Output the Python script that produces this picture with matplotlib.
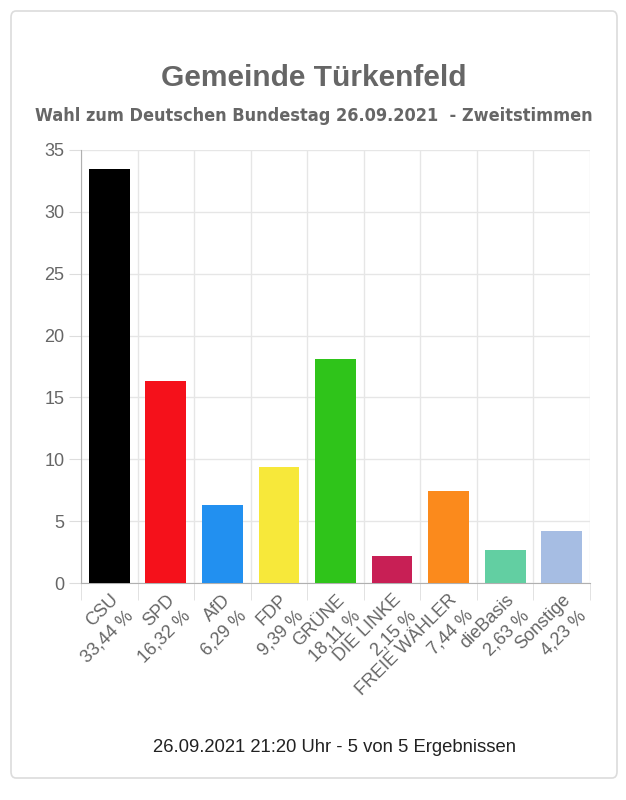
import matplotlib
matplotlib.use("Agg")
import matplotlib.pyplot as plt
from matplotlib.patches import FancyBboxPatch
from matplotlib import font_manager
import numpy as np

parties = ["CSU", "SPD", "AfD", "FDP", "GRÜNE", "DIE LINKE", "FREIE WÄHLER", "dieBasis", "Sonstige"]
values = [33.44, 16.32, 6.29, 9.39, 18.11, 2.15, 7.44, 2.63, 4.23]
value_labels = ["33,44 %", "16,32 %", "6,29 %", "9,39 %", "18,11 %", "2,15 %", "7,44 %", "2,63 %", "4,23 %"]
colors = ["#000000", "#f5111b", "#2290f0", "#f7e83a", "#2fc41a", "#c81f55", "#fb8a1c", "#62cfa2", "#a6bde3"]
yticks = [0, 5, 10, 15, 20, 25, 30, 35]

title = "Gemeinde Türkenfeld"
subtitle = "Wahl zum Deutschen Bundestag 26.09.2021  - Zweitstimmen"
footer = "26.09.2021 21:20 Uhr - 5 von 5 Ergebnissen"

plt.rcParams['font.family'] = ['Liberation Sans', 'DejaVu Sans']

cond = None
for f in font_manager.fontManager.ttflist:
    if 'condensed' in f.fname.lower() or 'narrow' in f.name.lower():
        if 'bold' in f.fname.lower() and 'oblique' not in f.fname.lower() and 'italic' not in f.fname.lower():
            cond = f.fname
            break

fig = plt.figure(figsize=(6.26, 8), dpi=100)
W, H = 626, 800

card = FancyBboxPatch((11 / W, 22 / H), 606 / W, 767 / H,
                      boxstyle="round,pad=0,rounding_size=0.008",
                      transform=fig.transFigure, facecolor="white",
                      edgecolor="#dcdcdc", linewidth=1.2, zorder=-5)
fig.patches.append(card)

ax = fig.add_axes([81 / W, 1 - 583 / H, 509 / W, 433 / H])
ax.set_facecolor("none")
x = np.arange(len(parties))
ax.bar(x, values, width=0.72, color=colors, zorder=3)

ax.set_xlim(-0.5, len(parties) - 0.5)
ax.set_ylim(0, 35)
ax.set_yticks(yticks)
ax.set_yticklabels([str(v) for v in yticks], fontsize=13, color="#666666")
ax.tick_params(axis='y', length=9, color="#dddddd", pad=3)

ax.set_xticks(x)
ax.set_xticklabels([f"{p}\n{v}" for p, v in zip(parties, value_labels)],
                   rotation=45, ha='right', va='top', rotation_mode='anchor',
                   fontsize=13, color="#666666", multialignment='right',
                   linespacing=1.4)
ax.tick_params(axis='x', length=0, pad=6)
ax.set_xticks(np.arange(-0.5, len(parties), 1), minor=True)
ax.tick_params(axis='x', which='minor', length=12, color="#dddddd")

ax.grid(True, which='major', axis='y', color="#e6e6e6", linewidth=1, zorder=0)
ax.grid(True, which='minor', axis='x', color="#e6e6e6", linewidth=1, zorder=0)

for s in ["top", "right"]:
    ax.spines[s].set_visible(False)
ax.spines["left"].set_color("#b0b0b0")
ax.spines["bottom"].set_color("#b0b0b0")

fig.text(314 / W, 1 - 78 / H, title, ha='center', va='center',
         fontsize=21.5, fontweight='bold', color="#666666")
if cond:
    fp = font_manager.FontProperties(fname=cond, size=13.0)
    fig.text(314 / W, 1 - 116 / H, subtitle, ha='center', va='center',
             fontproperties=fp, color="#666666")
else:
    fig.text(314 / W, 1 - 116 / H, subtitle, ha='center', va='center',
             fontsize=13.5, fontweight='bold', color="#666666")
fig.text(334 / W, 1 - 747 / H, footer, ha='center', va='center',
         fontsize=13.3, color="#222222")

fig.savefig("out.png", dpi=100)
